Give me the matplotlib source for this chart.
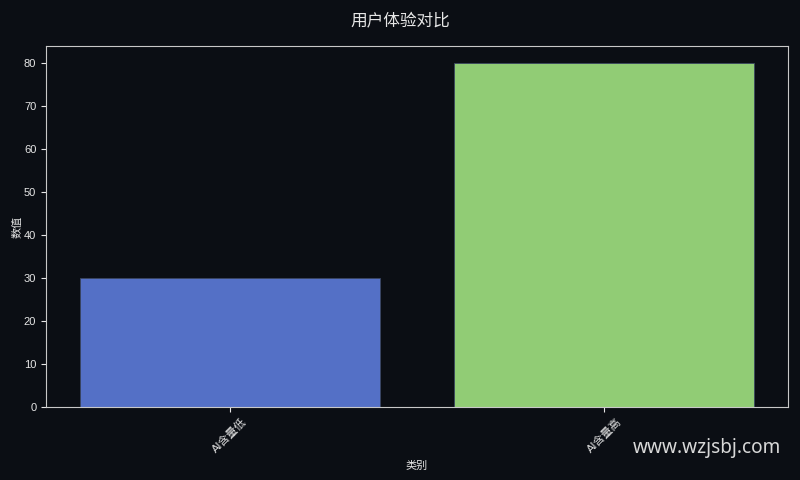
import matplotlib
matplotlib.use("Agg")
import matplotlib.pyplot as plt

categories = ["AI含量低", "AI含量高"]
values = [30, 80]
bar_colors = ["#5470c6", "#91cc75"]

bg = "#0b0e14"
fg = "#e6e6e6"

plt.rcParams['font.family'] = ['Liberation Sans', 'Noto Sans CJK SC', 'DejaVu Sans']

fig = plt.figure(figsize=(8, 4.8), dpi=100, facecolor=bg)
ax = fig.add_axes([0.0575, 0.152, 0.9275, 0.752])
ax.set_facecolor(bg)

x = list(range(len(categories)))
ax.bar(x, values, width=0.8, color=bar_colors, edgecolor="#3a4660", linewidth=0.6)
ax.set_xticks(x)
ax.set_xticklabels(categories, rotation=45, fontsize=8, color=fg)
ax.tick_params(axis='y', labelsize=8, colors=fg)
ax.tick_params(axis='x', colors=fg)
for sp in ax.spines.values():
    sp.set_color("#c8c8c8")

ax.set_xlabel("类别", fontsize=8, color=fg)
ax.set_ylabel("数值", fontsize=8, color=fg, labelpad=1)
fig.suptitle("用户体验对比", fontsize=12, color=fg, y=0.975,
             family=['Noto Sans CJK SC'])

fig.text(0.884, 0.067, "www.wzjsbj.com", fontsize=13.7, color="#d8d8d8",
         ha="center", va="center", family=['Noto Sans'])

fig.savefig("out.png", dpi=100, facecolor=bg)
